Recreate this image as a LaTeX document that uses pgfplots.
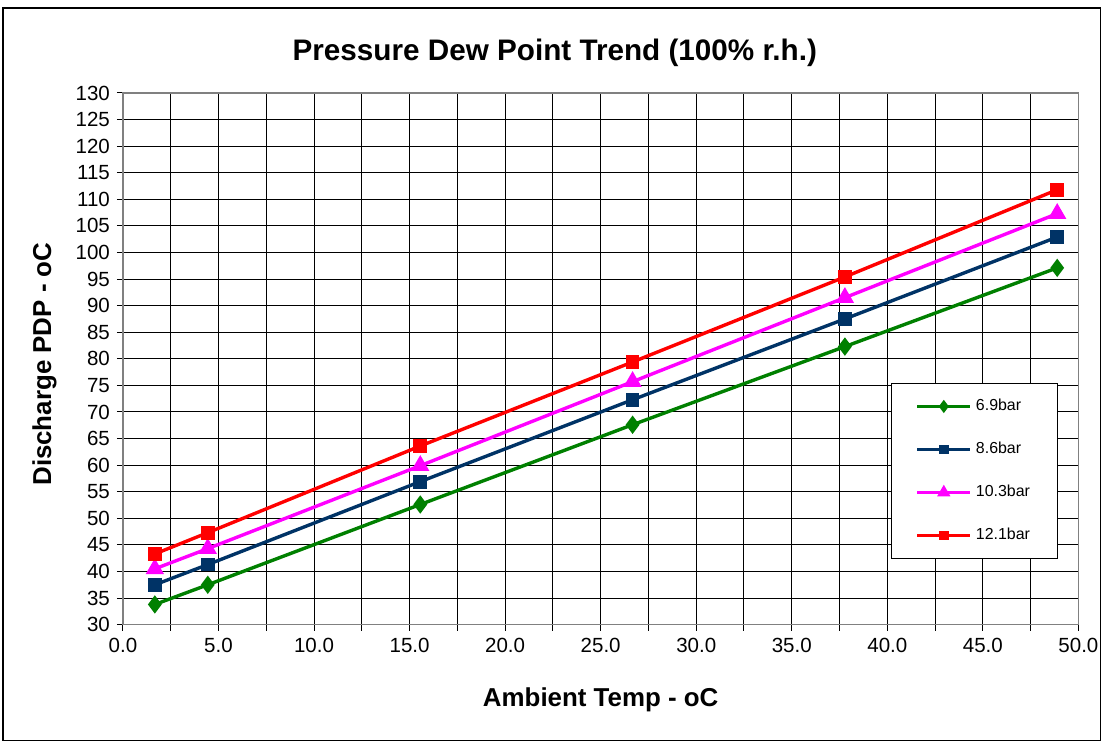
\documentclass[border=0pt]{standalone}
\usepackage{fontspec}
\setmainfont{Liberation Sans}
\usepackage{pgfplots}
\pgfplotsset{compat=1.18}
\definecolor{pdpgreen}{RGB}{0,128,0}
\definecolor{pdpblue}{RGB}{0,51,102}
\definecolor{pdpmag}{RGB}{255,0,255}
\definecolor{pdpred}{RGB}{255,0,0}
\begin{document}
\begin{tikzpicture}
\begin{axis}[
  scale only axis, width=478bp, height=266bp,
  xmin=0, xmax=50, ymin=30, ymax=130,
  xtick distance=5, ytick distance=5, minor x tick num=1,
  grid=both,
  major grid style={black, line width=0.5bp},
  minor grid style={black, line width=0.5bp},
  axis line style={gray, line width=0.8bp},
  tick align=outside, tick pos=left,
  major tick length=3bp, minor tick length=3bp,
  tick style={black, line width=0.5bp},
  /pgf/number format/assume math mode=true,
  tick label style={font=\fontsize{10.3}{12}\selectfont},
  xticklabel style={/pgf/number format/.cd, fixed, fixed zerofill, precision=1},
  yticklabel style={/pgf/number format/.cd, fixed, precision=0},
  title={Pressure Dew Point Trend (100\% r.h.)},
  title style={at={(rel axis cs:0.452,1.053)}, anchor=center, font=\bfseries\fontsize{14.9}{17}\selectfont},
  xlabel={Ambient Temp - oC},
  ylabel={Discharge PDP - oC},
  xlabel style={at={(rel axis cs:0.5,-0.141)}, anchor=center, font=\bfseries\fontsize{13}{15}\selectfont},
  ylabel style={at={(rel axis cs:-0.082,0.49)}, anchor=center, font=\bfseries\fontsize{13}{15}\selectfont},
  legend cell align=left,
  legend style={at={(rel axis cs:0.804,0.455)}, anchor=north west,
    draw=black, line width=0.5bp, inner xsep=12bp, inner ysep=6bp,
    row sep=10.25bp, font=\fontsize{8}{9.6}\selectfont},
  legend image code/.code={\draw[mark repeat=2, mark phase=2, mark options={scale=0.6}] plot coordinates {(0bp,0bp) (13.25bp,0bp) (26.5bp,0bp)};},
  every axis plot/.append style={line width=1.7bp},
]
\coordinate (O) at (rel axis cs:0,0);
\addplot[pdpgreen, mark=diamond*, mark size=3.2bp] coordinates {
(1.67,33.8) (4.44,37.5) (15.56,52.6) (26.67,67.6) (37.78,82.3) (48.89,97.1)
};
\addlegendentry{6.9bar}
\addplot[pdpblue, mark=square*, mark size=2.6bp] coordinates {
(1.67,37.5) (4.44,41.3) (15.56,56.9) (26.67,72.3) (37.78,87.5) (48.89,102.9)
};
\addlegendentry{8.6bar}
\addplot[pdpmag, mark=triangle*, mark size=3.6bp] coordinates {
(1.67,40.5) (4.44,44.3) (15.56,59.9) (26.67,75.7) (37.78,91.5) (48.89,107.3)
};
\addlegendentry{10.3bar}
\addplot[pdpred, mark=square*, mark size=2.6bp] coordinates {
(1.67,43.3) (4.44,47.3) (15.56,63.6) (26.67,79.4) (37.78,95.4) (48.89,111.8)
};
\addlegendentry{12.1bar}
\end{axis}
\draw[black, line width=0.6bp] ([shift={(-60bp,-58bp)}]O) rectangle ([shift={(489bp,308.5bp)}]O);
\path[use as bounding box] ([shift={(-61.5bp,-58.5bp)}]O) rectangle ([shift={(491bp,312.5bp)}]O);
\end{tikzpicture}
\end{document}
